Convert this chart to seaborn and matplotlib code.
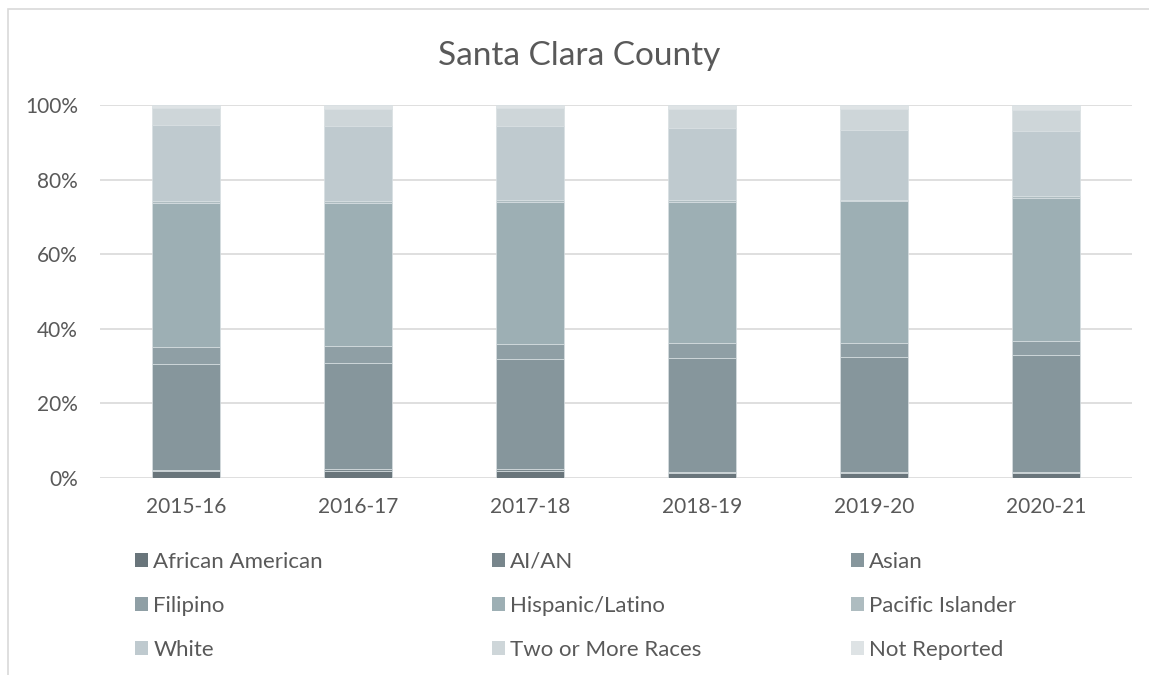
# Stacked share-of-enrollment bars by race/ethnicity, Santa Clara County

import pandas as pd
import seaborn as sns
import matplotlib.pyplot as plt
from matplotlib.patches import Patch, Rectangle

years = ["2015-16", "2016-17", "2017-18", "2018-19", "2019-20", "2020-21"]
groups = ["African American", "AI/AN", "Asian", "Filipino", "Hispanic/Latino",
          "Pacific Islander", "White", "Two or More Races", "Not Reported"]

# percent of students
african_american = [1.9, 2.0, 2.0, 1.4, 1.4, 1.4]
ai_an = [0.3, 0.3, 0.3, 0.3, 0.2, 0.2]
asian = [28.3, 28.6, 29.5, 30.4, 30.8, 31.3]
filipino = [4.5, 4.4, 4.1, 4.0, 3.7, 3.8]
hispanic = [38.7, 38.4, 38.2, 38.0, 38.1, 38.4]
pacific_islander = [0.6, 0.6, 0.5, 0.5, 0.4, 0.4]
white = [20.3, 20.2, 19.7, 19.3, 18.8, 17.5]
two_or_more = [4.7, 4.4, 4.8, 5.0, 5.4, 5.7]
not_reported = [0.7, 1.1, 0.9, 1.1, 1.2, 1.3]

colors = ["#69757b", "#78868c", "#86969c", "#8f9fa5", "#9dafb4",
          "#aebcc0", "#bfcacf", "#ced6d9", "#dee3e5"]

series = [african_american, ai_an, asian, filipino, hispanic,
          pacific_islander, white, two_or_more, not_reported]
rows = []
for g, vals in zip(groups, series):
    for y, v in zip(years, vals):
        rows.append({"year": y, "group": g, "share": v})
d = pd.DataFrame(rows)

sns.set_theme(style="white")
plt.rcParams["font.family"] = ["Lato", "DejaVu Sans"]
text_col = "#595959"

W, H = 1149, 675
fig = plt.figure(figsize=(W / 100, H / 100), dpi=100)
ax = fig.add_axes([100 / W, 1 - 478 / H, 1032 / W, 373 / H])

# seaborn stacks the first hue level on top, so feed the order reversed
sns.histplot(data=d, x="year", hue="group", weights="share",
             hue_order=groups[::-1], palette=dict(zip(groups, colors)),
             multiple="stack", discrete=True, shrink=0.4, alpha=1,
             edgecolor="#d8dfe2", linewidth=0.5, legend=False, ax=ax)

ax.set_xlim(-0.5, 5.5)
ax.set_ylim(0, 100)
ax.set_yticks(range(0, 101, 20))
ax.set_yticklabels([f"{t}%" for t in range(0, 101, 20)])
ax.set_xlabel("")
ax.set_ylabel("")
ax.yaxis.grid(True, color="#d9d9d9", linewidth=1.2)
ax.set_axisbelow(True)
for s in ax.spines.values():
    s.set_visible(False)
ax.tick_params(axis="y", length=0, pad=16, labelsize=15, labelcolor=text_col)
ax.tick_params(axis="x", length=0, pad=14, labelsize=15, labelcolor=text_col)

fig.text(579 / W, 1 - 65 / H, "Santa Clara County", ha="center",
         va="baseline", fontsize=24, color=text_col)

# legend: three fixed-width columns, filled row by row
handles = [Patch(facecolor=c, edgecolor="none") for c in colors]
col_x = [135, 492, 851]
for j, x in enumerate(col_x):
    idx = [j, j + 3, j + 6]
    leg = fig.legend([handles[i] for i in idx], [groups[i] for i in idx],
                     loc="upper left", bbox_to_anchor=(x / W, 1 - 552 / H),
                     frameon=False, fontsize=16,
                     handlelength=0.6, handleheight=0.6, handletextpad=0.22,
                     labelspacing=1.07, borderaxespad=0, borderpad=0)
    for t in leg.get_texts():
        t.set_color(text_col)

fig.add_artist(Rectangle((8 / W, -0.1), 1.5, 1.1 - 9 / H,
                         transform=fig.transFigure, fill=False,
                         edgecolor="#d9d9d9", linewidth=1.2))

fig.savefig("out.png", dpi=100)
